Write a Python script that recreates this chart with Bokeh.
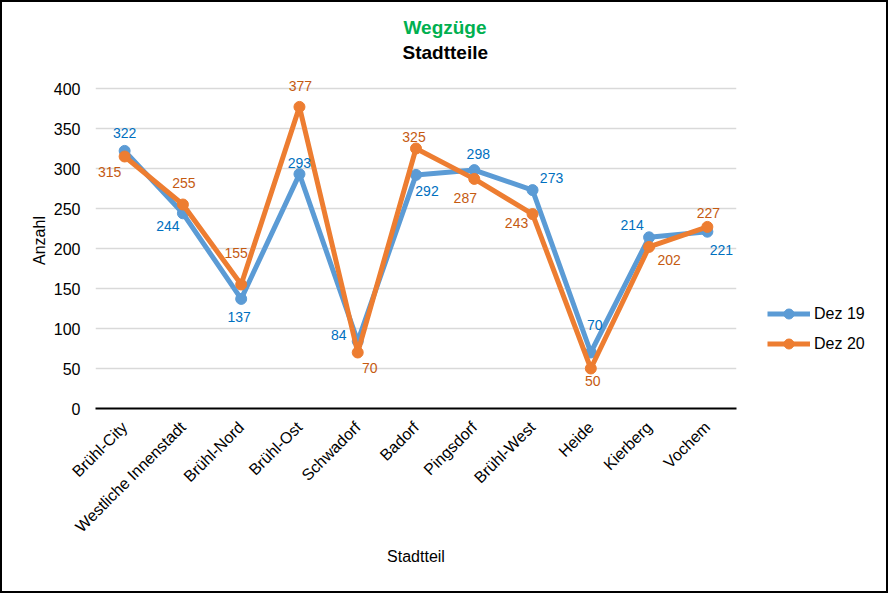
import math
from bokeh.plotting import figure
from bokeh.layouts import row
from bokeh.models import FactorRange, Range1d, Legend, LegendItem, FixedTicker, ColumnDataSource, Title
from bokeh.core.properties import value
from bokeh.embed import file_html
from bokeh.resources import INLINE

stadtteile = ["Brühl-City", "Westliche Innenstadt", "Brühl-Nord", "Brühl-Ost", "Schwadorf",
              "Badorf", "Pingsdorf", "Brühl-West", "Heide", "Kierberg", "Vochem"]
dez19 = [322, 244, 137, 293, 84, 292, 298, 273, 70, 214, 221]
dez20 = [315, 255, 155, 377, 70, 325, 287, 243, 50, 202, 227]
series_names = ["Dez 19", "Dez 20"]
y_ticks = [0, 50, 100, 150, 200, 250, 300, 350, 400]

# label placement offsets (screen pixels) for the data labels
off19_x = [0, -15, -2, 0, -19, 11, 4, 19, 4, -17, 14]
off19_y = [-18, 13, 18, -11, -6, 16, -16, -12, -28, -12, 18]
off20_x = [-15, 1, -5, 1, 12, -2, -9, -16, 2, 20, 1]
off20_y = [15, -22, -32, -21, 15, -12, 19, 9, 12, 13, -14]

FONT = "Liberation Sans"
BLUE, ORANGE = "#5B9BD5", "#ED7D31"
BLUE_T, ORANGE_T = "#0070C0", "#C55A11"

p = figure(x_range=FactorRange(*stadtteile), y_range=Range1d(0, 420),
           width=744, height=589, output_backend="svg", toolbar_location=None,
           min_border_left=93, min_border_right=10, min_border_top=70, min_border_bottom=183)
p.outline_line_color = None
p.xgrid.visible = False
p.ygrid.grid_line_color = "#D9D9D9"
p.ygrid.grid_line_width = 1.5
p.yaxis.ticker = FixedTicker(ticks=y_ticks)
p.yaxis.axis_line_color = None
p.yaxis.major_tick_line_color = None
p.yaxis.minor_tick_line_color = None
p.yaxis.major_tick_out = 0
p.yaxis.major_label_standoff = 15
p.yaxis.major_label_text_font = FONT
p.yaxis.major_label_text_font_size = "16px"
p.yaxis.major_label_text_color = "#000000"
p.yaxis.axis_label = "Anzahl"
p.yaxis.axis_label_text_font = FONT
p.yaxis.axis_label_text_font_size = "16px"
p.yaxis.axis_label_text_font_style = "normal"
p.yaxis.axis_label_text_color = "#000000"
p.yaxis.axis_label_standoff = 3

p.xaxis.axis_line_color = "#000000"
p.xaxis.axis_line_width = 2
p.xaxis.major_tick_line_color = None
p.xaxis.major_tick_out = 0
p.xaxis.major_label_standoff = 16
p.xaxis.major_label_orientation = math.pi / 4
p.xaxis.major_label_text_font = FONT
p.xaxis.major_label_text_font_size = "16px"
p.xaxis.major_label_text_color = "#000000"
p.xaxis.axis_label = "Stadtteil"
p.xaxis.axis_label_text_font = FONT
p.xaxis.axis_label_text_font_size = "16px"
p.xaxis.axis_label_text_font_style = "normal"
p.xaxis.axis_label_text_color = "#000000"
p.xaxis.axis_label_standoff = 4

src = ColumnDataSource(dict(x=stadtteile, d19=dez19, d20=dez20,
                            t19=[str(v) for v in dez19], t20=[str(v) for v in dez20],
                            ox19=off19_x, oy19=off19_y, ox20=off20_x, oy20=off20_y))

p.line("x", "d19", source=src, line_color=BLUE, line_width=5)
p.scatter("x", "d19", source=src, size=11, fill_color=BLUE, line_color=BLUE)
p.line("x", "d20", source=src, line_color=ORANGE, line_width=5)
p.scatter("x", "d20", source=src, size=11, fill_color=ORANGE, line_color=ORANGE)

p.text("x", "d19", text="t19", source=src, x_offset="ox19", y_offset="oy19",
       text_align="center", text_baseline="middle", text_color=BLUE_T,
       text_font=value(FONT), text_font_size="14px")
p.text("x", "d20", text="t20", source=src, x_offset="ox20", y_offset="oy20",
       text_align="center", text_baseline="middle", text_color=ORANGE_T,
       text_font=value(FONT), text_font_size="14px")

title_kw = dict(align="left", text_font=FONT, text_font_size="19px", text_font_style="bold")
try:
    t_weg = Title(text="Wegzüge", offset=308, standoff=-16, text_color="#00B050", **title_kw)
    s_stadt = 20
except Exception:
    t_weg = Title(text="Wegzüge", offset=308, standoff=0, text_color="#00B050", **title_kw)
    s_stadt = 14
t_stadt = Title(text="Stadtteile", offset=307, standoff=s_stadt, text_color="#000000", **title_kw)
p.add_layout(t_stadt, "above")
p.add_layout(t_weg, "above")

# legend panel to the right of the chart (its renderers lie outside its visible range)
pl = figure(width=140, height=589, output_backend="svg", toolbar_location=None,
            x_range=FactorRange(*stadtteile), y_range=Range1d(1000, 1001),
            x_axis_type=None, y_axis_type=None, min_border=0)
pl.outline_line_color = None
pl.grid.visible = False
items = []
for name, col, field in zip(series_names, [BLUE, ORANGE], ["d19", "d20"]):
    lr = pl.line("x", field, source=src, line_color=col, line_width=5)
    sr = pl.scatter("x", field, source=src, size=11, fill_color=col, line_color=col)
    items.append(LegendItem(label=name, renderers=[lr, sr]))
legend = Legend(items=items, location=(21, 52), orientation="vertical", border_line_color=None,
                background_fill_alpha=0, padding=0, margin=0, spacing=5,
                glyph_width=43, glyph_height=25, label_height=25, label_standoff=4,
                label_text_font=FONT, label_text_font_size="16px", label_text_color="#000000")
pl.add_layout(legend)

layout = row(p, pl, styles={"border": "2px solid black"})
open("out.html", "w").write(file_html(layout, INLINE))
